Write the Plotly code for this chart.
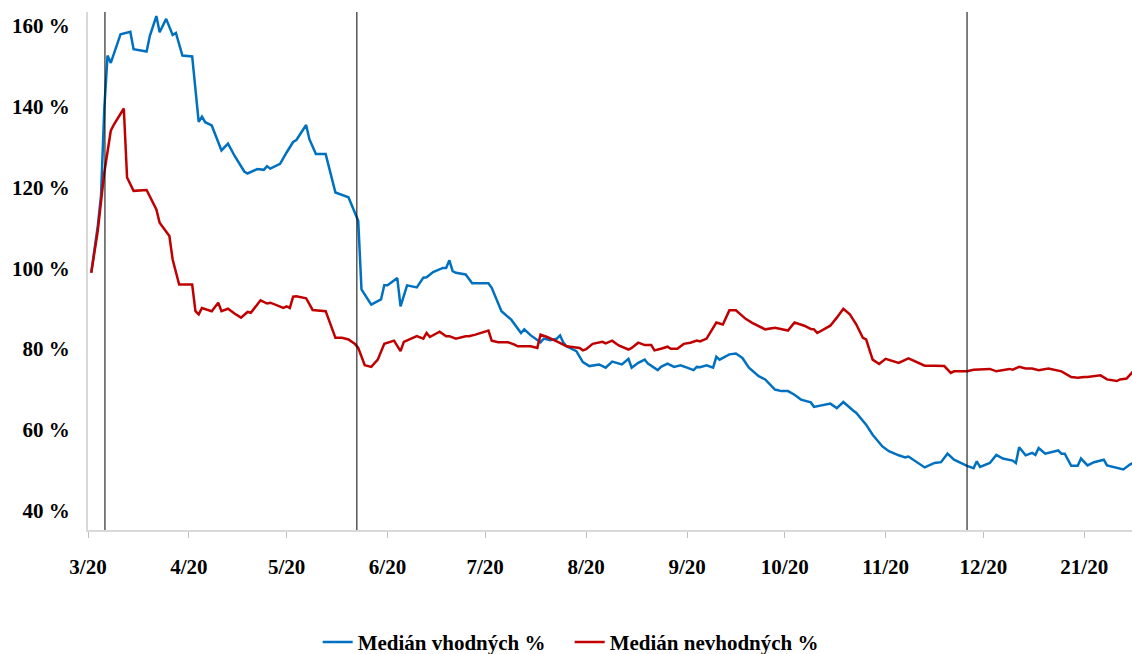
import plotly.graph_objects as go

# Medián vhodných % (blue)
good_dates = [
    "2020-03-02", "2020-03-04", "2020-03-05", "2020-03-06", "2020-03-07", "2020-03-08",
    "2020-03-11", "2020-03-14", "2020-03-15", "2020-03-19", "2020-03-20", "2020-03-22",
    "2020-03-23", "2020-03-25", "2020-03-27", "2020-03-28", "2020-03-30", "2020-04-02",
    "2020-04-04", "2020-04-05", "2020-04-06", "2020-04-08", "2020-04-11", "2020-04-13",
    "2020-04-15", "2020-04-17", "2020-04-18", "2020-04-19", "2020-04-22", "2020-04-24",
    "2020-04-25", "2020-04-26", "2020-04-29", "2020-05-01", "2020-05-03", "2020-05-04",
    "2020-05-07", "2020-05-08", "2020-05-10", "2020-05-13", "2020-05-16", "2020-05-20",
    "2020-05-23", "2020-05-24", "2020-05-27", "2020-05-30", "2020-05-31", "2020-06-01",
    "2020-06-04", "2020-06-05", "2020-06-07", "2020-06-10", "2020-06-12", "2020-06-13",
    "2020-06-15", "2020-06-18", "2020-06-19", "2020-06-20", "2020-06-21", "2020-06-22",
    "2020-06-25", "2020-06-27", "2020-07-02", "2020-07-03", "2020-07-06", "2020-07-09",
    "2020-07-12", "2020-07-13", "2020-07-15", "2020-07-18", "2020-07-19", "2020-07-21",
    "2020-07-23", "2020-07-24", "2020-07-25", "2020-07-26", "2020-07-29", "2020-07-31",
    "2020-08-02", "2020-08-05", "2020-08-07", "2020-08-09", "2020-08-12", "2020-08-14",
    "2020-08-15", "2020-08-17", "2020-08-19", "2020-08-20", "2020-08-23", "2020-08-24",
    "2020-08-26", "2020-08-28", "2020-08-30", "2020-09-01", "2020-09-03", "2020-09-04",
    "2020-09-05", "2020-09-07", "2020-09-09", "2020-09-10", "2020-09-11", "2020-09-14",
    "2020-09-16", "2020-09-18", "2020-09-20", "2020-09-23", "2020-09-25", "2020-09-28",
    "2020-09-30", "2020-10-02", "2020-10-04", "2020-10-06", "2020-10-09", "2020-10-10",
    "2020-10-13", "2020-10-15", "2020-10-17", "2020-10-19", "2020-10-22", "2020-10-23",
    "2020-10-26", "2020-10-28", "2020-10-31", "2020-11-02", "2020-11-05", "2020-11-07",
    "2020-11-08", "2020-11-10", "2020-11-13", "2020-11-16", "2020-11-18", "2020-11-20",
    "2020-11-22", "2020-11-26", "2020-11-28", "2020-11-29", "2020-11-30", "2020-12-03",
    "2020-12-05", "2020-12-07", "2020-12-10", "2020-12-11", "2020-12-12", "2020-12-14",
    "2020-12-16", "2020-12-17", "2020-12-18", "2020-12-20", "2020-12-24", "2020-12-25",
    "2020-12-26", "2020-12-28", "2020-12-30", "2020-12-31", "2021-01-02", "2021-01-04",
    "2021-01-07", "2021-01-08", "2021-01-11", "2021-01-13", "2021-01-15", "2021-01-16",
]
good_values = [
    99.0, 110.5, 118.0, 139.5, 152.7, 150.9,
    158.0, 158.6, 154.3, 153.7, 157.6, 162.5,
    158.5, 161.8, 157.8, 158.3, 152.7, 152.5,
    136.3, 137.6, 136.2, 135.4, 129.2, 130.9,
    127.9, 125.1, 124.0, 123.5, 124.6, 124.4,
    125.3, 124.7, 125.9, 128.7, 131.3, 131.8,
    135.5, 132.0, 128.3, 128.3, 118.8, 117.6,
    111.8, 94.8, 91.0, 92.3, 95.8, 95.8,
    97.6, 90.6, 95.8, 95.3, 97.7, 97.8,
    99.1, 100.1, 100.1, 102.0, 99.3, 98.9,
    98.5, 96.3, 96.3, 95.2, 89.4, 87.3,
    84.0, 84.9, 83.4, 81.7, 82.6, 82.2,
    82.6, 83.4, 81.6, 80.7, 79.5, 76.8,
    75.8, 76.2, 75.4, 76.9, 76.2, 77.6,
    75.4, 76.6, 77.4, 76.4, 74.8, 75.6,
    76.4, 75.6, 76.0, 75.4, 74.8, 75.6,
    75.5, 76.0, 75.4, 78.1, 77.4, 78.7,
    78.9, 77.8, 75.4, 73.3, 72.5, 70.0,
    69.6, 69.6, 68.7, 67.5, 66.8, 65.7,
    66.1, 66.5, 65.4, 66.9, 64.8, 64.2,
    61.3, 58.8, 55.9, 54.7, 53.7, 53.2,
    53.4, 52.4, 50.7, 51.8, 52.0, 54.1,
    52.6, 51.1, 50.5, 52.2, 50.8, 51.8,
    53.8, 52.9, 52.4, 51.8, 55.7, 53.7,
    54.3, 53.8, 55.5, 54.1, 54.9, 54.1,
    54.1, 51.1, 51.1, 52.9, 51.2, 52.0,
    52.6, 51.2, 50.5, 50.2, 51.4, 51.8,
]

# Medián nevhodných % (red)
bad_dates = [
    "2020-03-02", "2020-03-04", "2020-03-06", "2020-03-08", "2020-03-09", "2020-03-12",
    "2020-03-13", "2020-03-15", "2020-03-19", "2020-03-22", "2020-03-23", "2020-03-26",
    "2020-03-27", "2020-03-29", "2020-04-02", "2020-04-03", "2020-04-04", "2020-04-05",
    "2020-04-08", "2020-04-10", "2020-04-11", "2020-04-13", "2020-04-15", "2020-04-17",
    "2020-04-19", "2020-04-20", "2020-04-23", "2020-04-25", "2020-04-26", "2020-04-30",
    "2020-05-01", "2020-05-02", "2020-05-03", "2020-05-04", "2020-05-07", "2020-05-09",
    "2020-05-13", "2020-05-16", "2020-05-18", "2020-05-20", "2020-05-22", "2020-05-23",
    "2020-05-25", "2020-05-27", "2020-05-29", "2020-05-31", "2020-06-03", "2020-06-05",
    "2020-06-06", "2020-06-10", "2020-06-12", "2020-06-13", "2020-06-14", "2020-06-17",
    "2020-06-19", "2020-06-20", "2020-06-22", "2020-06-25", "2020-06-26", "2020-06-28",
    "2020-07-02", "2020-07-03", "2020-07-05", "2020-07-08", "2020-07-10", "2020-07-11",
    "2020-07-15", "2020-07-17", "2020-07-18", "2020-07-20", "2020-07-23", "2020-07-26",
    "2020-07-30", "2020-07-31", "2020-08-01", "2020-08-03", "2020-08-06", "2020-08-07",
    "2020-08-09", "2020-08-11", "2020-08-14", "2020-08-15", "2020-08-17", "2020-08-19",
    "2020-08-21", "2020-08-22", "2020-08-24", "2020-08-26", "2020-08-27", "2020-08-29",
    "2020-08-31", "2020-09-02", "2020-09-04", "2020-09-05", "2020-09-07", "2020-09-08",
    "2020-09-10", "2020-09-12", "2020-09-14", "2020-09-16", "2020-09-19", "2020-09-21",
    "2020-09-25", "2020-09-28", "2020-10-01", "2020-10-02", "2020-10-04", "2020-10-07",
    "2020-10-09", "2020-10-10", "2020-10-11", "2020-10-13", "2020-10-15", "2020-10-17",
    "2020-10-19", "2020-10-21", "2020-10-23", "2020-10-25", "2020-10-26", "2020-10-28",
    "2020-10-30", "2020-11-01", "2020-11-05", "2020-11-08", "2020-11-11", "2020-11-13",
    "2020-11-16", "2020-11-19", "2020-11-21", "2020-11-22", "2020-11-26", "2020-11-28",
    "2020-12-03", "2020-12-05", "2020-12-09", "2020-12-10", "2020-12-12", "2020-12-14",
    "2020-12-16", "2020-12-18", "2020-12-21", "2020-12-25", "2020-12-28", "2020-12-30",
    "2021-01-01", "2021-01-02", "2021-01-06", "2021-01-08", "2021-01-11", "2021-01-12",
    "2021-01-14", "2021-01-15", "2021-01-16",
]
bad_values = [
    98.9, 109.3, 123.7, 134.1, 135.7, 139.6,
    122.5, 119.2, 119.4, 114.6, 111.3, 108.0,
    102.2, 96.0, 96.0, 89.4, 88.6, 90.2,
    89.4, 91.5, 89.4, 90.0, 88.8, 87.8,
    89.2, 89.0, 92.1, 91.3, 91.5, 90.2,
    90.6, 90.2, 93.0, 93.1, 92.6, 89.7,
    89.4, 82.8, 82.8, 82.4, 81.3, 80.3,
    76.0, 75.6, 77.4, 81.3, 82.1, 79.5,
    81.8, 83.2, 82.6, 84.0, 83.0, 84.3,
    83.2, 83.2, 82.6, 83.2, 83.2, 83.6,
    84.6, 82.1, 81.7, 81.7, 81.1, 80.7,
    80.7, 80.3, 83.6, 83.0, 81.9, 80.7,
    80.3, 79.7, 80.0, 81.3, 81.8, 81.4,
    82.1, 80.9, 79.9, 80.3, 81.6, 81.0,
    81.0, 79.7, 80.1, 80.6, 80.1, 80.1,
    81.3, 81.6, 82.1, 81.9, 82.6, 84.0,
    86.6, 86.1, 89.6, 89.6, 87.5, 86.5,
    84.9, 85.3, 84.9, 84.6, 86.6, 85.8,
    85.0, 84.9, 84.0, 84.9, 85.8, 87.8,
    90.0, 88.6, 86.1, 82.8, 82.4, 77.4,
    76.3, 77.6, 76.6, 77.7, 76.6, 75.9,
    75.9, 75.8, 74.1, 74.5, 74.5, 74.9,
    75.1, 74.5, 75.1, 74.9, 75.6, 75.2,
    75.2, 74.8, 75.2, 74.5, 73.1, 72.9,
    73.1, 73.1, 73.5, 72.5, 72.1, 72.5,
    72.7, 73.5, 74.5,
]

# month ticks and their labels
month_ticks = [
    "2020-03-01", "2020-04-01", "2020-05-01", "2020-06-01", "2020-07-01", "2020-08-01",
    "2020-09-01", "2020-10-01", "2020-11-01", "2020-12-01", "2021-01-01",
]
month_labels = ["3/20", "4/20", "5/20", "6/20", "7/20", "8/20", "9/20", "10/20", "11/20", "12/20", "21/20"]

y_ticks = [40, 60, 80, 100, 120, 140, 160]
y_labels = [f"{v} %" for v in y_ticks]

# marked events (vertical lines)
event_dates = ["2020-03-06 05:00", "2020-05-22 14:00", "2020-11-26"]

serif = "Liberation Serif, Times New Roman, serif"

fig = go.Figure()
fig.add_trace(go.Scatter(
    x=good_dates, y=good_values,
    mode="lines",
    name="Medián vhodných %",
    line=dict(color="#0070C0", width=2.5),
))
fig.add_trace(go.Scatter(
    x=bad_dates, y=bad_values,
    mode="lines",
    name="Medián nevhodných %",
    line=dict(color="#C00000", width=2.5),
))

for d in event_dates:
    fig.add_shape(
        type="line", xref="x", yref="paper",
        x0=d, x1=d, y0=0, y1=1.0,
        line=dict(color="black", width=1),
    )

fig.update_layout(
    width=1132, height=654,
    margin=dict(l=88, r=0, t=12, b=124, autoexpand=False),
    paper_bgcolor="white",
    plot_bgcolor="white",
    showlegend=True,
    legend=dict(
        orientation="h",
        x=0.22, xanchor="left",
        yref="container",
        y=0.018, yanchor="middle",
        font=dict(family=serif, size=21, color="black", weight="bold"),
        entrywidth=207,
    ),
    xaxis=dict(
        type="date",
        range=["2020-03-01", "2021-01-15 16:00"],
        tickmode="array",
        tickvals=month_ticks,
        ticktext=month_labels,
        ticks="outside", ticklen=6, tickcolor="#bfbfbf", tickwidth=1,
        showline=True, linecolor="#d9d9d9", linewidth=2,
        showgrid=False, zeroline=False,
        tickfont=dict(family=serif, size=21, color="black", weight="bold"),
        ticklabelstandoff=11,
        automargin=False,
    ),
    yaxis=dict(
        range=[35.2, 163.5],
        tickmode="array",
        tickvals=y_ticks,
        ticktext=y_labels,
        ticks="",
        showline=True, linecolor="#d9d9d9", linewidth=2,
        showgrid=False, zeroline=False,
        tickfont=dict(family=serif, size=21, color="black", weight="bold"),
        ticklabelstandoff=12,
        automargin=False,
    ),
)

# drop the default page margin so the figure sits at the window's corner
fig.write_html(
    "out.html",
    config={"displayModeBar": False},
    post_script="document.body.style.margin='0';document.body.style.overflow='hidden';",
)
